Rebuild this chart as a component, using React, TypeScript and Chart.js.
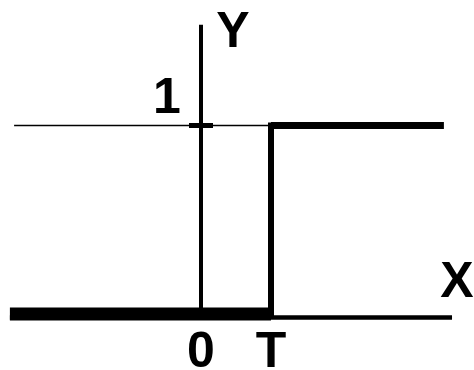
import React, { useEffect, useRef } from "react";
import { Chart, registerables } from "chart.js";

Chart.register(...registerables);

// Step function data: u(x - T), T = 1
const stepX = [-2.73, 1, 1, 3.47];
const stepY = [0, 0, 1, 1];
// Thin guide line at level 1
const levelX = [-2.67, 1];
const levelY = [1, 1];
// Axis extents (data units)
const xAxisExtent = [-2.73, 3.586];
const yAxisExtent = [0, 1.535];
// Tick labels
const xTickValues = [0, 1];
const xTickLabels = ["0", "T"];
const yTickValues = [1];
const yTickLabels = ["1"];
const axisNames = { x: "X", y: "Y" };

const segWidths = [13, 6, 7];
const segCaps: CanvasLineCap[] = ["butt", "square", "butt"];

const FONT = "bold 50px 'Liberation Sans', Arial, sans-serif";

const axesPlugin = {
  id: "axesPlugin",
  beforeDraw(chart: any) {
    const { ctx, width, height } = chart;
    ctx.save();
    ctx.fillStyle = "#ffffff";
    ctx.fillRect(0, 0, width, height);
    ctx.restore();
  },
  beforeDatasetsDraw(chart: any) {
    const { ctx } = chart;
    const xs = chart.scales.x;
    const ys = chart.scales.y;
    const x0 = xs.getPixelForValue(0);
    const y0 = ys.getPixelForValue(0);
    ctx.save();
    ctx.strokeStyle = "#000";
    ctx.lineCap = "butt";
    // X axis
    ctx.lineWidth = 4.5;
    ctx.beginPath();
    ctx.moveTo(xs.getPixelForValue(xAxisExtent[0]), y0 + 3.5);
    ctx.lineTo(xs.getPixelForValue(xAxisExtent[1]), y0 + 3.5);
    ctx.stroke();
    // Y axis
    ctx.lineWidth = 4;
    ctx.beginPath();
    ctx.moveTo(x0, ys.getPixelForValue(yAxisExtent[0]));
    ctx.lineTo(x0, ys.getPixelForValue(yAxisExtent[1]));
    ctx.stroke();
    ctx.restore();
  },
  afterDatasetsDraw(chart: any) {
    const { ctx } = chart;
    const xs = chart.scales.x;
    const ys = chart.scales.y;
    const x0 = xs.getPixelForValue(0);
    const y0 = ys.getPixelForValue(0);
    ctx.save();
    ctx.fillStyle = "#000";
    ctx.strokeStyle = "#000";
    // tick marks on Y axis
    ctx.lineWidth = 5;
    yTickValues.forEach((v) => {
      const py = ys.getPixelForValue(v);
      ctx.beginPath();
      ctx.moveTo(x0 - 12, py);
      ctx.lineTo(x0 + 12, py);
      ctx.stroke();
    });
    ctx.font = FONT;
    ctx.textAlign = "center";
    ctx.textBaseline = "alphabetic";
    // x tick labels
    xTickValues.forEach((v, i) => {
      ctx.fillText(xTickLabels[i], xs.getPixelForValue(v), y0 + 53);
    });
    // y tick labels
    yTickValues.forEach((v, i) => {
      ctx.fillText(yTickLabels[i], x0 - 34, ys.getPixelForValue(v) - 13);
    });
    // axis names
    ctx.fillText(axisNames.y, x0 + 32, ys.getPixelForValue(yAxisExtent[1]) + 22);
    ctx.fillText(axisNames.x, xs.getPixelForValue(xAxisExtent[1]) + 5, y0 - 17);
    ctx.restore();
  },
};

export default function App() {
  const canvasRef = useRef<HTMLCanvasElement | null>(null);

  useEffect(() => {
    if (!canvasRef.current) return;
    const chart = new Chart(canvasRef.current, {
      type: "scatter",
      data: {
        datasets: [
          {
            data: levelX.map((x, i) => ({ x, y: levelY[i] })),
            showLine: true,
            borderColor: "#000",
            borderWidth: 1.5,
            pointRadius: 0,
          },
          {
            data: stepX.map((x, i) => ({ x, y: stepY[i] })),
            showLine: true,
            borderColor: "#000",
            borderWidth: 7,
            pointRadius: 0,
            segment: {
              borderWidth: (c: any) => segWidths[c.p0DataIndex],
              borderCapStyle: (c: any) => segCaps[c.p0DataIndex],
            },
          } as any,
        ],
      },
      options: {
        animation: false,
        responsive: false,
        layout: { padding: 0 },
        plugins: { legend: { display: false }, tooltip: { enabled: false } },
        scales: {
          x: { type: "linear", display: false, min: -201 / 70, max: 273 / 70 },
          y: { type: "linear", display: false, min: -56 / 188.5, max: 314 / 188.5 },
        },
      },
      plugins: [axesPlugin],
    });
    return () => chart.destroy();
  }, []);

  return (
    <div style={{ position: "absolute", left: 0, top: 0, width: 474, height: 370, background: "#fff" }}>
      <canvas ref={canvasRef} width={474} height={370} style={{ width: 474, height: 370 }} />
    </div>
  );
}
